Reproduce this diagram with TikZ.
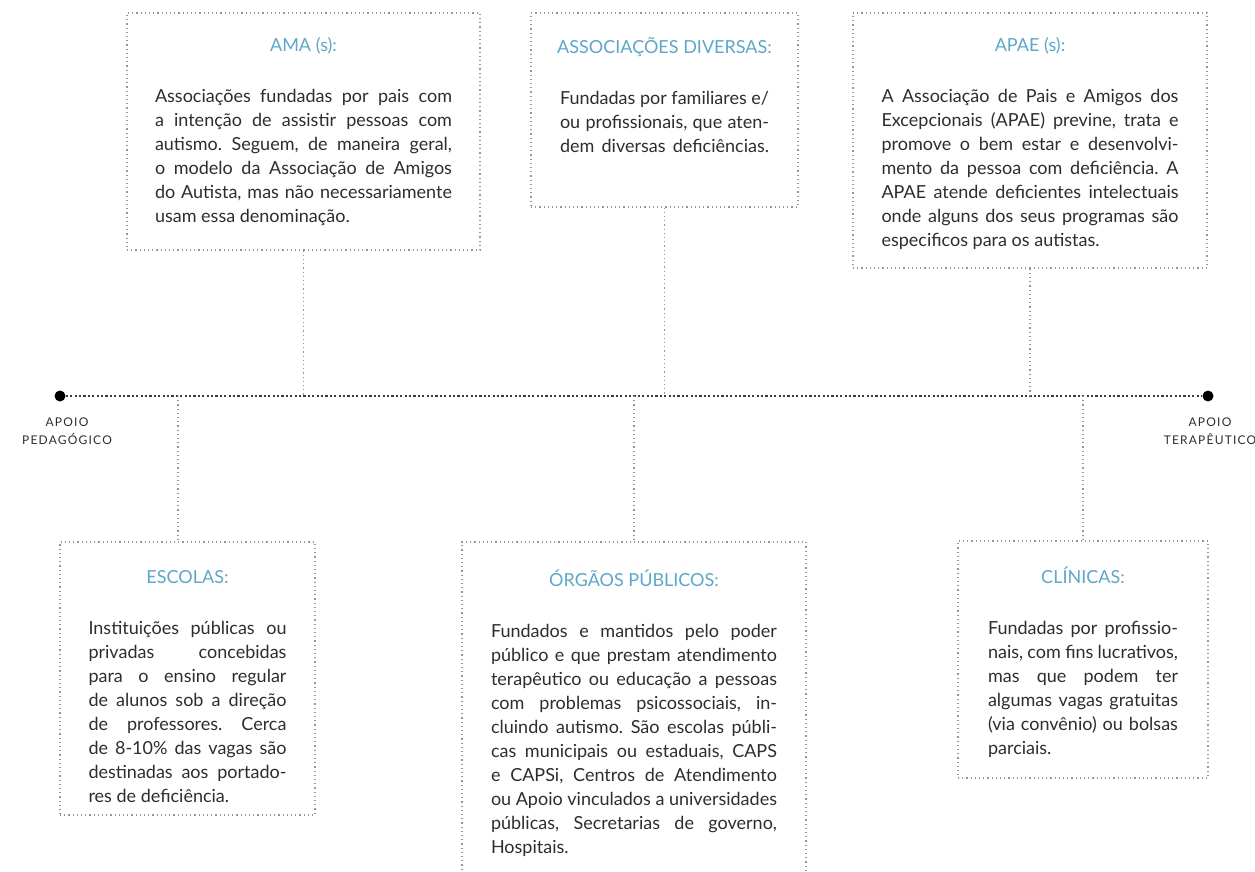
\documentclass[tikz,border=0pt]{standalone}
\usepackage{fontspec}
\setmainfont{Lato}
\newfontfamily\labelfont[LetterSpace=10]{Lato}
\usepackage{xcolor}
\usetikzlibrary{positioning}
\definecolor{titleblue}{RGB}{93,167,201}
\definecolor{textgray}{RGB}{45,45,45}
\definecolor{linegray}{RGB}{150,150,150}
\definecolor{maingray}{RGB}{60,60,60}
\frenchspacing
\newcommand{\boxtitle}[1]{\makebox[\linewidth][c]{\color{titleblue}#1}\par\vspace{27pt}}
\newcommand{\jl}[1]{\makebox[\linewidth][s]{#1}\par}

\begin{document}
\begin{tikzpicture}[x=1pt, y=1pt]
	\tikzstyle{box} = [draw = linegray, line width = 1.2pt, dash pattern = on 1.2pt off 3pt, text = textgray, align = justify, inner xsep = 0pt, font = \fontsize{18}{24}\selectfont]
	\tikzstyle{link} = [draw = linegray, line width = 1.2pt, dash pattern = on 1.2pt off 3pt]
	\tikzstyle{mainline} = [draw = maingray, line width = 2.2pt, dash pattern = on 2.2pt off 2.2pt]
	\tikzstyle{dot} = [circle, fill = black, inner sep = 0pt, minimum size = 11pt]
	\tikzstyle{endlabel} = [align = center, text = textgray, font = \labelfont\fontsize{12}{18}\selectfont]
\useasboundingbox (0,0) rectangle (1255,-872);
\node[dot] (0) at (60, -396) {};
\node[dot] (1) at (1208, -396) {};
\node[endlabel] (l0) at (67, -431) {APOIO\\PEDAGÓGICO};
\node[endlabel] (l1) at (1210, -431) {APOIO\\TERAPÊUTICO};
\node[box, text width = 297pt, minimum width = 353pt, minimum height = 237pt] (2) at (303.5, -131.5) {\boxtitle{AMA (s):}
\jl{Associações fundadas por pais com}
\jl{a intenção de assistir pessoas com}
\jl{autismo. Seguem, de maneira geral,}
\jl{o modelo da Associação de Amigos}
\jl{do Autista, mas não necessariamente}
usam essa denominação.};
\node[box, text width = 209pt, minimum width = 267pt, minimum height = 194pt] (3) at (664.5, -110) {\boxtitle{ASSOCIAÇÕES DIVERSAS:}
\jl{Fundadas por familiares e/}
\jl{ou profissionais, que aten-}
\jl{dem diversas deficiências.}
\vspace{29pt}};
\node[box, text width = 297pt, minimum width = 354pt, minimum height = 255pt] (4) at (1030, -140.5) {\boxtitle{APAE (s):}
\jl{A Associação de Pais e Amigos dos}
\jl{Excepcionais (APAE) previne, trata e}
\jl{promove o bem estar e desenvolvi-}
\jl{mento da pessoa com deficiência. A}
\jl{APAE atende deficientes intelectuais}
\jl{onde alguns dos seus programas são}
especificos para os autistas.\par
\vspace{-7pt}};
\node[box, text width = 198pt, minimum width = 255pt, minimum height = 273pt] (5) at (187.5, -678.5) {\boxtitle{ESCOLAS:}
\jl{Instituições públicas ou}
\jl{privadas concebidas}
\jl{para o ensino regular}
\jl{de alunos sob a direção}
\jl{de professores. Cerca}
\jl{de 8-10\% das vagas são}
\jl{destinadas aos portado-}
res de deficiência.\par
\vspace{-17pt}};
\node[box, text width = 286pt, minimum width = 344pt, minimum height = 342pt] (6) at (634, -713) {\boxtitle{ÓRGÃOS PÚBLICOS:}
\jl{Fundados e mantidos pelo poder}
\jl{público e que prestam atendimento}
\jl{terapêutico ou educação a pessoas}
\jl{com problemas psicossociais, in-}
\jl{cluindo autismo. São escolas públi-}
\jl{cas municipais ou estaduais, CAPS}
\jl{e CAPSi, Centros de Atendimento}
\jl{ou Apoio vinculados a universidades}
\jl{públicas, Secretarias de governo,}
Hospitais.};
\node[box, text width = 190pt, minimum width = 250pt, minimum height = 237pt] (7) at (1083, -659.5) {\boxtitle{CLÍNICAS:}
\jl{Fundadas por profissio-}
\jl{nais, com fins lucrativos,}
\jl{mas que podem ter}
\jl{algumas vagas gratuitas}
\jl{(via convênio) ou bolsas}
parciais.\par
\vspace{-6pt}};
\coordinate (8) at (178, -396);
	\path[mainline] (0) -- (1);
	\path[link] (2) -- (2 |- 0);
	\path[link] (3) -- (3 |- 0);
	\path[link] (4) -- (4 |- 0);
	\path[link] (8) -- (8 |- 5.north);
	\path[link] (6 |- 0) -- (6);
	\path[link] (7 |- 0) -- (7);
\end{tikzpicture}
\end{document}
